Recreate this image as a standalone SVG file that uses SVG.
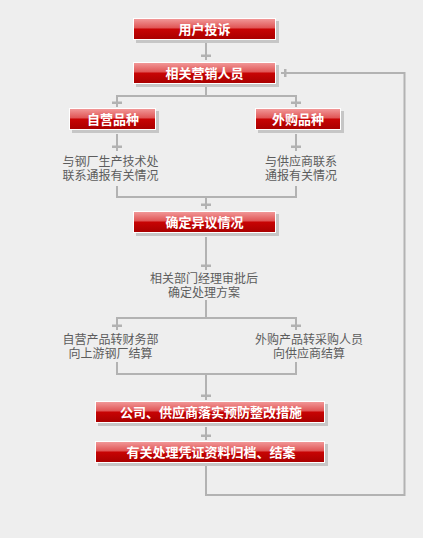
<svg xmlns="http://www.w3.org/2000/svg" width="423" height="538" viewBox="0 0 423 538">
<defs>
<linearGradient id="btn" x1="0" y1="0" x2="0" y2="1">
<stop offset="0" stop-color="#f29a9a"/>
<stop offset="0.45" stop-color="#e05555"/>
<stop offset="0.5" stop-color="#c80404"/>
<stop offset="1" stop-color="#a80000"/>
</linearGradient>
<path id="ad" d="M-5,-5.5 h10 v2.5 h-10 z M-1,-3 h2 v3 h-2 z" fill="#b2b2b2"/>
<path id="al" d="M5.5,-4 v8 h-2.5 v-8 z M3,-1 v2 h-3 v-2 z" fill="#b2b2b2"/>
</defs>
<style>
.sh{fill:#c6c6c6}
.bx{fill:url(#btn);stroke:#ffffff;stroke-width:1}
.bt{font-family:"Noto Sans CJK SC","Noto Sans",sans-serif;font-size:13px;font-weight:bold;fill:#ffffff;text-anchor:middle}
.tx{font-family:"Noto Sans CJK SC","Noto Sans",sans-serif;font-size:12px;fill:#5c5c5c;text-anchor:middle}
.ln{fill:none;stroke:#b2b2b2;stroke-width:2}
</style>
<rect width="423" height="538" fill="#eeeeee"/>
<g id="connectors">
<path class="ln" d="M206,43 V55"/>
<use href="#ad" x="206" y="60"/>
<path class="ln" d="M206,86 V96 M117,96 H296 M117,95 V102 M296,95 V102"/>
<use href="#ad" x="117" y="107"/>
<use href="#ad" x="296" y="107"/>
<path class="ln" d="M117,134 V146 M296,134 V146"/>
<use href="#ad" x="117" y="151"/>
<use href="#ad" x="296" y="151"/>
<path class="ln" d="M117,186 V197 M296,186 V197 M116,197 H297 M206,197 V204"/>
<use href="#ad" x="206" y="209"/>
<path class="ln" d="M206,237 V265"/>
<use href="#ad" x="206" y="270"/>
<path class="ln" d="M206,300 V318 M116,318 H297 M117,318 V325 M296,318 V325"/>
<use href="#ad" x="117" y="330"/>
<use href="#ad" x="296" y="330"/>
<path class="ln" d="M117,362 V374 M296,362 V374 M116,374 H297 M206,374 V395"/>
<use href="#ad" x="206" y="400"/>
<path class="ln" d="M206,427 V435"/>
<use href="#ad" x="206" y="440"/>
<path class="ln" d="M206,466 V495 H404.5 V73 H286"/>
<use href="#al" x="281" y="73"/>
</g>
<g id="n1">
<rect class="sh" x="136" y="21" width="143" height="22"/>
<rect class="bx" x="133.5" y="18.5" width="142" height="21"/>
<text class="bt" x="204.5" y="33.5">用户投诉</text>
</g>
<g id="n2">
<rect class="sh" x="136" y="65" width="143" height="22"/>
<rect class="bx" x="133.5" y="62.5" width="142" height="21"/>
<text class="bt" x="204.5" y="77.5">相关营销人员</text>
</g>
<g id="n3">
<rect class="sh" x="72" y="111" width="87" height="22"/>
<rect class="bx" x="69.5" y="108.5" width="86" height="21"/>
<text class="bt" x="113" y="123.5">自营品种</text>
</g>
<g id="n4">
<rect class="sh" x="258" y="111" width="86" height="22"/>
<rect class="bx" x="255.5" y="108.5" width="85" height="21"/>
<text class="bt" x="298" y="123.5">外购品种</text>
</g>
<g id="t1">
<text class="tx"><tspan x="110.5" y="165.5">与钢厂生产技术处</tspan><tspan x="110.5" y="179.5">联系通报有关情况</tspan></text>
</g>
<g id="t2">
<text class="tx"><tspan x="301" y="165.5">与供应商联系</tspan><tspan x="301" y="179.5">通报有关情况</tspan></text>
</g>
<g id="n5">
<rect class="sh" x="136" y="214" width="143" height="22"/>
<rect class="bx" x="133.5" y="211.5" width="142" height="21"/>
<text class="bt" x="204.5" y="226.5">确定异议情况</text>
</g>
<g id="t3">
<text class="tx"><tspan x="204" y="283">相关部门经理审批后</tspan><tspan x="204" y="296.5">确定处理方案</tspan></text>
</g>
<g id="t4">
<text class="tx"><tspan x="110.5" y="344">自营产品转财务部</tspan><tspan x="110.5" y="358">向上游钢厂结算</tspan></text>
</g>
<g id="t5">
<text class="tx"><tspan x="309" y="344">外购产品转采购人员</tspan><tspan x="309" y="358">向供应商结算</tspan></text>
</g>
<g id="n6">
<rect class="sh" x="98" y="404" width="230" height="22"/>
<rect class="bx" x="95.5" y="401.5" width="229" height="21"/>
<text class="bt" x="211" y="416.5">公司、供应商落实预防整改措施</text>
</g>
<g id="n7">
<rect class="sh" x="98" y="444" width="230" height="22"/>
<rect class="bx" x="95.5" y="441.5" width="229" height="21"/>
<text class="bt" x="211" y="456.5">有关处理凭证资料归档、结案</text>
</g>
</svg>
